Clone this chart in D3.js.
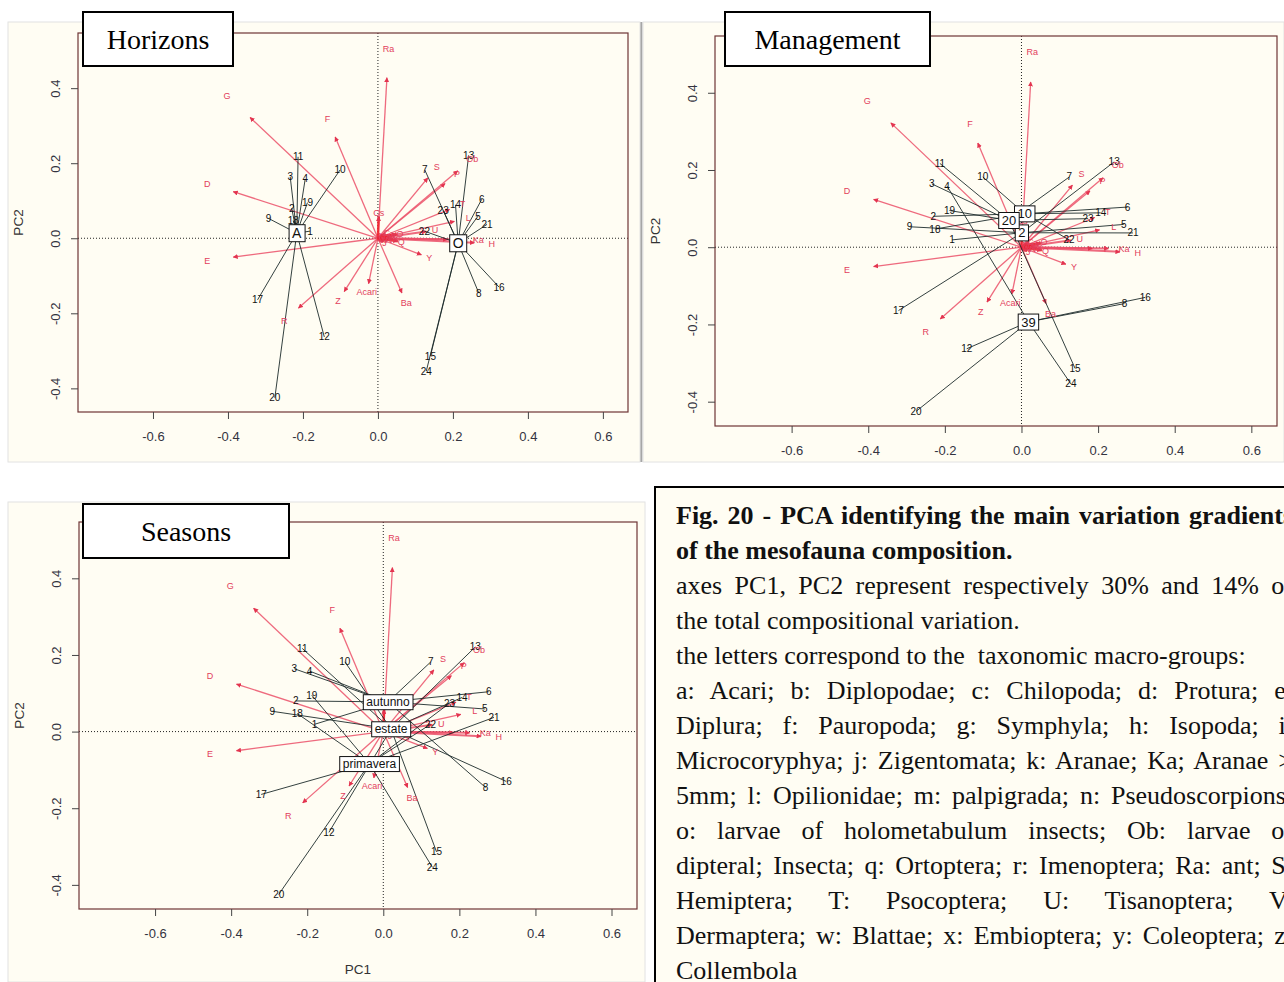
<!DOCTYPE html>
<html>
<head>
<meta charset="utf-8">
<script src="https://cdn.jsdelivr.net/npm/d3@7"></script>
<style>
  body { margin: 0; background: #ffffff; overflow: hidden; }
  svg { display: block; }
</style>
</head>
<body>
<div id="fig"></div>
<script>

// axis ranges shared by the three biplots
const xDomain = [-0.8, 0.667];
const yDomain = [-0.463, 0.547];
const xTickValues = [-0.6, -0.4, -0.2, 0, 0.2, 0.4, 0.6];
const xTickLabels = ["-0.6", "-0.4", "-0.2", "0.0", "0.2", "0.4", "0.6"];
const yTickValues = [-0.4, -0.2, 0, 0.2, 0.4];
const yTickLabels = ["-0.4", "-0.2", "0.0", "0.2", "0.4"];

// site scores, samples 1..24
const siteNames = ["1","2","3","4","5","6","7","8","9","10","11","12",
                   "13","14","15","16","17","18","19","20","21","22","23","24"];
const sitePC1 = [-0.181, -0.230, -0.234, -0.194, 0.267, 0.277, 0.125, 0.269,
                 -0.292, -0.101, -0.213, -0.143, 0.242, 0.207, 0.140, 0.323,
                 -0.321, -0.226, -0.188, -0.275, 0.291, 0.124, 0.174, 0.129];
const sitePC2 = [0.019, 0.080, 0.164, 0.158, 0.059, 0.104, 0.182, -0.146,
                 0.053, 0.182, 0.217, -0.263, 0.221, 0.089, -0.314, -0.130,
                 -0.164, 0.047, 0.095, -0.425, 0.037, 0.019, 0.074, -0.354];

// grouping factors of the samples
const horizon = ["A","A","A","A","O","O","O","O","A","A","A","A",
                 "O","O","O","O","A","A","A","A","O","O","O","O"];
const management = ["2","10","20","39","2","10","20","39","2","10","20","39",
                    "2","10","20","39","2","10","20","39","2","10","20","39"];
const season = ["autunno","autunno","autunno","autunno","autunno","autunno","autunno","autunno",
                "estate","estate","estate","estate","estate","estate","estate","estate",
                "primavera","primavera","primavera","primavera","primavera","primavera","primavera","primavera"];

// taxa loadings (arrow tips)
const speciesNames = ["Ra","G","F","D","E","R","Z","Acari","Ba","Y","S","P","Ob","T","L","U",
                      "Ka","H","I","Cs","O","Q","C","J","K","M","N","V","W","X"];
const speciesPC1 = [0.024, -0.341, -0.114, -0.386, -0.386, -0.212, -0.090, -0.025, 0.064, 0.116,
                    0.133, 0.179, 0.213, 0.191, 0.204, 0.129, 0.227, 0.257, 0.185, 0.002,
                    0.050, 0.053, 0.020, 0.015, 0.030, 0.010, 0.025, 0.035, 0.012, 0.040];
const speciesPC2 = [0.428, 0.322, 0.270, 0.124, -0.050, -0.186, -0.142, -0.121, -0.146, -0.044,
                    0.161, 0.146, 0.180, 0.077, 0.045, 0.018, -0.003, -0.012, -0.003, 0.058,
                    0.011, -0.008, 0.012, -0.010, 0.004, 0.006, -0.004, 0.008, -0.003, -0.002];

const captionLines = [
  "Fig. 20 - PCA identifying the main variation gradients",
  "of the mesofauna composition.",
  "axes PC1, PC2 represent respectively 30% and 14% of",
  "the total compositional variation.",
  "the letters correspond to the  taxonomic macro-groups:",
  "a: Acari; b: Diplopodae; c: Chilopoda; d: Protura; e:",
  "Diplura; f: Pauropoda; g: Symphyla; h: Isopoda; i:",
  "Microcoryphya; j: Zigentomata; k: Aranae; Ka; Aranae >",
  "5mm; l: Opilionidae; m: palpigrada; n: Pseudoscorpions;",
  "o: larvae of holometabulum insects; Ob: larvae of",
  "dipteral; Insecta; q: Ortoptera; r: Imenoptera; Ra: ant; S:",
  "Hemiptera; T: Psocoptera; U: Tisanoptera; V:",
  "Dermaptera; w: Blattae; x: Embioptera; y: Coleoptera; z:",
  "Collembola"
];
const captionBold = [0, 1];
const captionJustified = [0, 2, 5, 6, 7, 8, 9, 10, 11, 12];

const SANS = "'Liberation Sans', Arial, sans-serif";
const SERIF = "'Liberation Serif', 'Times New Roman', serif";
const CREAM = "#fffdf3";
const ARROW = "#eb5068";
const labelStretch = 1.18;

const sites = siteNames.map((n, i) => ({ name: n, pc1: sitePC1[i], pc2: sitePC2[i], i: i }));
const species = speciesNames.map((n, i) => ({ name: n, pc1: speciesPC1[i], pc2: speciesPC2[i] }));

const panels = [
  { title: "Horizons", groups: horizon, box: { left: 78, top: 33, right: 628, bottom: 412 },
    bg: [8, 22, 632, 440], titleBox: [83, 12, 150, 54], labelFont: 14, pc1: false },
  { title: "Management", groups: management, box: { left: 715, top: 36, right: 1277, bottom: 426 },
    bg: [643, 22, 641, 440], titleBox: [725, 12, 205, 54], labelFont: 13, pc1: false },
  { title: "Seasons", groups: season, box: { left: 79, top: 522, right: 637, bottom: 909 },
    bg: [8, 502, 637, 480], titleBox: [83, 504, 206, 54], labelFont: 12, pc1: true }
];

const svg = d3.select("#fig").append("svg")
  .attr("width", 1284)
  .attr("height", 982);

const defs = svg.append("defs");
defs.append("marker")
  .attr("id", "head")
  .attr("viewBox", "0 0 10 10")
  .attr("refX", 9).attr("refY", 5)
  .attr("markerWidth", 5).attr("markerHeight", 5)
  .attr("markerUnits", "userSpaceOnUse")
  .attr("orient", "auto")
  .append("path")
  .attr("d", "M0,0L10,5L0,10z")
  .attr("fill", "#e3344f");

// divider between the two top panels
svg.append("line")
  .attr("x1", 641).attr("x2", 641).attr("y1", 22).attr("y2", 462)
  .attr("stroke", "#a6a6a6").attr("stroke-width", 3);

function arrowWidth(d) {
  // short arrows pile up into the red blob at the origin
  const len = Math.hypot(d.pc1, d.pc2);
  if (len < 0.08) return 2.6;
  if (Math.abs(d.pc2) < 0.02) return 2;
  return 1.3;
}

function drawPanel(p, k) {
  const x = d3.scaleLinear().domain(xDomain).range([p.box.left, p.box.right]);
  const y = d3.scaleLinear().domain(yDomain).range([p.box.bottom, p.box.top]);
  const g = svg.append("g");

  g.append("rect")
    .attr("x", p.bg[0]).attr("y", p.bg[1]).attr("width", p.bg[2]).attr("height", p.bg[3])
    .attr("fill", CREAM).attr("stroke", "#e2e2e2").attr("stroke-width", 1);

  defs.append("clipPath").attr("id", "clip" + k)
    .append("rect")
    .attr("x", p.box.left).attr("y", p.box.top)
    .attr("width", p.box.right - p.box.left).attr("height", p.box.bottom - p.box.top);

  const plot = g.append("g").attr("clip-path", "url(#clip" + k + ")");

  // dotted zero lines
  plot.append("line")
    .attr("x1", x(0)).attr("x2", x(0)).attr("y1", p.box.top).attr("y2", p.box.bottom)
    .attr("stroke", "#222").attr("stroke-dasharray", "1,2");
  plot.append("line")
    .attr("x1", p.box.left).attr("x2", p.box.right).attr("y1", y(0)).attr("y2", y(0))
    .attr("stroke", "#222").attr("stroke-dasharray", "1,2");

  // taxa arrows
  plot.selectAll(".arrow")
    .data(species)
    .join("line")
    .attr("class", "arrow")
    .attr("x1", x(0)).attr("y1", y(0))
    .attr("x2", d => x(d.pc1)).attr("y2", d => y(d.pc2))
    .attr("stroke", d => Math.hypot(d.pc1, d.pc2) < 0.08 ? "#f2202c" : ARROW)
    .attr("stroke-width", arrowWidth).attr("stroke-opacity", 0.85)
    .attr("marker-end", "url(#head)");

  // spider from each group centroid to its samples
  const centroids = d3.rollup(sites,
    v => [d3.mean(v, d => d.pc1), d3.mean(v, d => d.pc2)],
    d => p.groups[d.i]);

  plot.selectAll(".spider")
    .data(sites)
    .join("line")
    .attr("class", "spider")
    .attr("x1", d => x(centroids.get(p.groups[d.i])[0]))
    .attr("y1", d => y(centroids.get(p.groups[d.i])[1]))
    .attr("x2", d => x(d.pc1)).attr("y2", d => y(d.pc2))
    .attr("stroke", "#1d2b2b").attr("stroke-width", 0.9);

  plot.selectAll(".site")
    .data(sites)
    .join("text")
    .attr("class", "site")
    .attr("x", d => x(d.pc1)).attr("y", d => y(d.pc2))
    .attr("dy", "0.35em")
    .attr("text-anchor", "middle")
    .attr("font-family", SANS).attr("font-size", 10)
    .attr("fill", "#111")
    .text(d => d.name);

  plot.selectAll(".sp")
    .data(species)
    .join("text")
    .attr("class", "sp")
    .attr("x", d => x(d.pc1 * labelStretch)).attr("y", d => y(d.pc2 * labelStretch))
    .attr("dy", "0.35em")
    .attr("text-anchor", "middle")
    .attr("font-family", SANS).attr("font-size", 9)
    .attr("fill", "#e2405c")
    .text(d => d.name);

  // boxed centroid labels
  const cg = plot.selectAll(".cent")
    .data(Array.from(centroids))
    .join("g")
    .attr("class", "cent")
    .attr("transform", d => "translate(" + x(d[1][0]) + "," + y(d[1][1]) + ")");
  const ct = cg.append("text")
    .attr("text-anchor", "middle").attr("dy", "0.36em")
    .attr("font-family", SANS).attr("font-size", p.labelFont)
    .attr("fill", "#111")
    .text(d => d[0]);
  ct.each(function () {
    const b = this.getBBox();
    d3.select(this.parentNode).insert("rect", "text")
      .attr("x", b.x - 3).attr("y", b.y - 0.5)
      .attr("width", b.width + 6).attr("height", b.height + 1)
      .attr("fill", "#fff").attr("stroke", "#111").attr("stroke-width", 1);
  });

  // frame
  g.append("rect")
    .attr("x", p.box.left).attr("y", p.box.top)
    .attr("width", p.box.right - p.box.left).attr("height", p.box.bottom - p.box.top)
    .attr("fill", "none").attr("stroke", "#6e3535").attr("stroke-width", 1.2);

  // axes
  const xAxis = g.append("g")
    .attr("transform", "translate(0," + p.box.bottom + ")")
    .call(d3.axisBottom(x).tickValues(xTickValues).tickSize(7)
      .tickFormat((d, i) => xTickLabels[i]));
  xAxis.select(".domain").remove();
  xAxis.selectAll("line").attr("stroke", "#444");
  xAxis.selectAll("text")
    .attr("y", 20)
    .attr("font-family", SANS).attr("font-size", 13).attr("fill", "#33333f");

  const yAxis = g.append("g")
    .attr("transform", "translate(" + p.box.left + ",0)")
    .call(d3.axisLeft(y).tickValues(yTickValues).tickSize(7)
      .tickFormat((d, i) => yTickLabels[i]));
  yAxis.select(".domain").remove();
  yAxis.selectAll("line").attr("stroke", "#444");
  yAxis.selectAll("text")
    .attr("transform", "rotate(-90)")
    .attr("x", 0).attr("y", -18).attr("dy", 0)
    .attr("text-anchor", "middle")
    .attr("font-family", SANS).attr("font-size", 13).attr("fill", "#33333f");

  g.append("text")
    .attr("transform", "translate(" + (p.box.left - 55) + "," + ((p.box.top + p.box.bottom) / 2) + ") rotate(-90)")
    .attr("text-anchor", "middle")
    .attr("font-family", SANS).attr("font-size", 13.5).attr("fill", "#333")
    .text("PC2");

  if (p.pc1) {
    g.append("text")
      .attr("x", (p.box.left + p.box.right) / 2).attr("y", p.box.bottom + 65)
      .attr("text-anchor", "middle")
      .attr("font-family", SANS).attr("font-size", 13.5).attr("fill", "#333")
      .text("PC1");
  }

  // panel title
  g.append("rect")
    .attr("x", p.titleBox[0]).attr("y", p.titleBox[1])
    .attr("width", p.titleBox[2]).attr("height", p.titleBox[3])
    .attr("fill", "#fff").attr("stroke", "#000").attr("stroke-width", 2);
  g.append("text")
    .attr("x", p.titleBox[0] + p.titleBox[2] / 2).attr("y", p.titleBox[1] + p.titleBox[3] / 2)
    .attr("dy", "0.35em")
    .attr("text-anchor", "middle")
    .attr("font-family", SERIF).attr("font-size", 28).attr("fill", "#000")
    .text(p.title);
}

panels.forEach(drawPanel);

// caption box
const cap = svg.append("g");
cap.append("rect")
  .attr("x", 655).attr("y", 487).attr("width", 680).attr("height", 520)
  .attr("fill", CREAM).attr("stroke", "#000").attr("stroke-width", 2);

const lineWidth = 617;
captionLines.forEach((t, i) => {
  const txt = cap.append("text")
    .attr("x", 676).attr("y", 524 + i * 35)
    .attr("font-family", SERIF).attr("font-size", 26)
    .attr("font-weight", captionBold.includes(i) ? "bold" : "normal")
    .attr("fill", "#111")
    .style("white-space", "pre")
    .text(t);
  if (captionJustified.includes(i)) {
    const spaces = t.split(" ").length - 1;
    const extra = lineWidth - txt.node().getComputedTextLength();
    if (spaces > 0 && extra > 0) txt.attr("word-spacing", extra / spaces);
  }
});

</script>
</body>
</html>
